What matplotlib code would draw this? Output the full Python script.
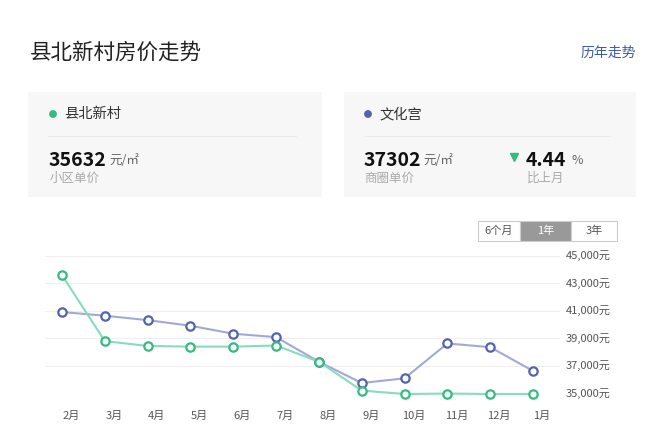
import numpy as np
import matplotlib
matplotlib.use("Agg")
import matplotlib.pyplot as plt
from matplotlib.patches import Rectangle, Circle

plt.rcParams['font.family'] = ['Noto Sans CJK SC', 'DejaVu Sans']

months = ["2月", "3月", "4月", "5月", "6月", "7月", "8月", "9月", "10月", "11月", "12月", "1月"]
community = [43600, 38800, 38450, 38400, 38400, 38480, 37300, 35200, 34950, 34980, 34950, 34950]
district = [40920, 40650, 40330, 39920, 39340, 39090, 37300, 35750, 36090, 38630, 38360, 36630]
yticks = [35000, 37000, 39000, 41000, 43000, 45000]
ranges = ["6个月", "1年", "3年"]

W, H = 660, 442
fig = plt.figure(figsize=(W / 100, H / 100), dpi=100)
fig.patch.set_facecolor("white")

# overlay axes in pixel coords (y down)
bg = fig.add_axes([0, 0, 1, 1])
bg.set_xlim(0, W)
bg.set_ylim(H, 0)
bg.axis("off")

green_dark = "#34ba83"
green_line = "#86dcbd"
blue_dark = "#5364ad"
blue_line = "#a2a9d6"

bg.text(30, 53, "县北新村房价走势", fontsize=15.5, color="#222222", va="center", ha="left")
bg.text(636, 53, "历年走势", fontsize=10, color="#3c5aa6", va="center", ha="right")

# cards
for x0, x1 in [(28, 322), (344, 636)]:
    bg.add_patch(Rectangle((x0, 92), x1 - x0, 105, facecolor="#f7f7f7", edgecolor="none"))
    bg.plot([x0 + 20, x1 - 26], [136, 136], color="#ececec", lw=0.8)

bg.add_patch(Circle((53, 114), 3.2, color=green_dark))
bg.text(64, 114, "县北新村", fontsize=10.3, color="#333333", va="center")
bg.text(49, 160, "35632", fontsize=14, fontweight="bold", color="#111111", va="center")
bg.text(109, 161, "元/㎡", fontsize=9, color="#666666", va="center")
bg.text(50, 178, "小区单价", fontsize=9, color="#aaaaaa", va="center")

bg.add_patch(Circle((368, 114), 3.2, color=blue_dark))
bg.text(379, 114, "文化宫", fontsize=10.3, color="#333333", va="center")
bg.text(364, 160, "37302", fontsize=14, fontweight="bold", color="#111111", va="center")
bg.text(423, 161, "元/㎡", fontsize=9, color="#666666", va="center")
bg.text(364, 178, "商圈单价", fontsize=9, color="#aaaaaa", va="center")
bg.plot([514], [157], marker="v", color=green_dark, markersize=5.5)
bg.text(526, 160, "4.44", fontsize=14, fontweight="bold", color="#111111", va="center")
bg.text(571, 161, "%", fontsize=9, color="#666666", va="center")
bg.text(527, 178, "比上月", fontsize=9, color="#aaaaaa", va="center")

# range buttons
bx = [478, 520, 571, 617]
for i, lab in enumerate(ranges):
    sel = lab == "1年"
    bg.add_patch(Rectangle((bx[i], 221), bx[i + 1] - bx[i], 20,
                           facecolor="#999999" if sel else "white",
                           edgecolor="#cccccc", lw=0.8))
    bg.text((bx[i] + bx[i + 1]) / 2, 231, lab, fontsize=8,
            color="white" if sel else "#555555", ha="center", va="center")

# chart axes: x 45..560 px, y 256 (45000) .. 393.3 (35000)
left, right, top, bottom = 45, 560, 256, 393.3
ax = fig.add_axes([left / W, 1 - bottom / H, (right - left) / W, (bottom - top) / H])
ax.set_facecolor("none")
x = np.arange(len(months))
ax.set_xlim(-17 / 42.8, 11 + 27 / 42.8)
ax.set_ylim(35000, 45000)
for v in yticks:
    ax.axhline(v, color="#efefef", lw=0.8, zorder=0)
for s in ax.spines.values():
    s.set_visible(False)
ax.set_xticks([])
ax.set_yticks([])

ax.plot(x, district, color=blue_line, lw=1.5, marker="o", markersize=6,
        markerfacecolor="white", markeredgecolor=blue_dark, markeredgewidth=1.6,
        clip_on=False, zorder=3)
ax.plot(x, community, color=green_line, lw=1.5, marker="o", markersize=6,
        markerfacecolor="white", markeredgecolor=green_dark, markeredgewidth=1.6,
        clip_on=False, zorder=3)

for xi, m in zip(x, months):
    ax.annotate(m, (xi, 35000), xytext=(6.5, -16.5), textcoords="offset points",
                ha="center", va="center", fontsize=8, color="#555555", annotation_clip=False)

for v in yticks:
    ax.annotate(f"{v:,}元", (1, (v - 35000) / 10000), xycoords="axes fraction",
                xytext=(4, 0), textcoords="offset points", ha="left", va="center",
                fontsize=8, color="#555555", annotation_clip=False)

fig.savefig("out.png", dpi=100)
